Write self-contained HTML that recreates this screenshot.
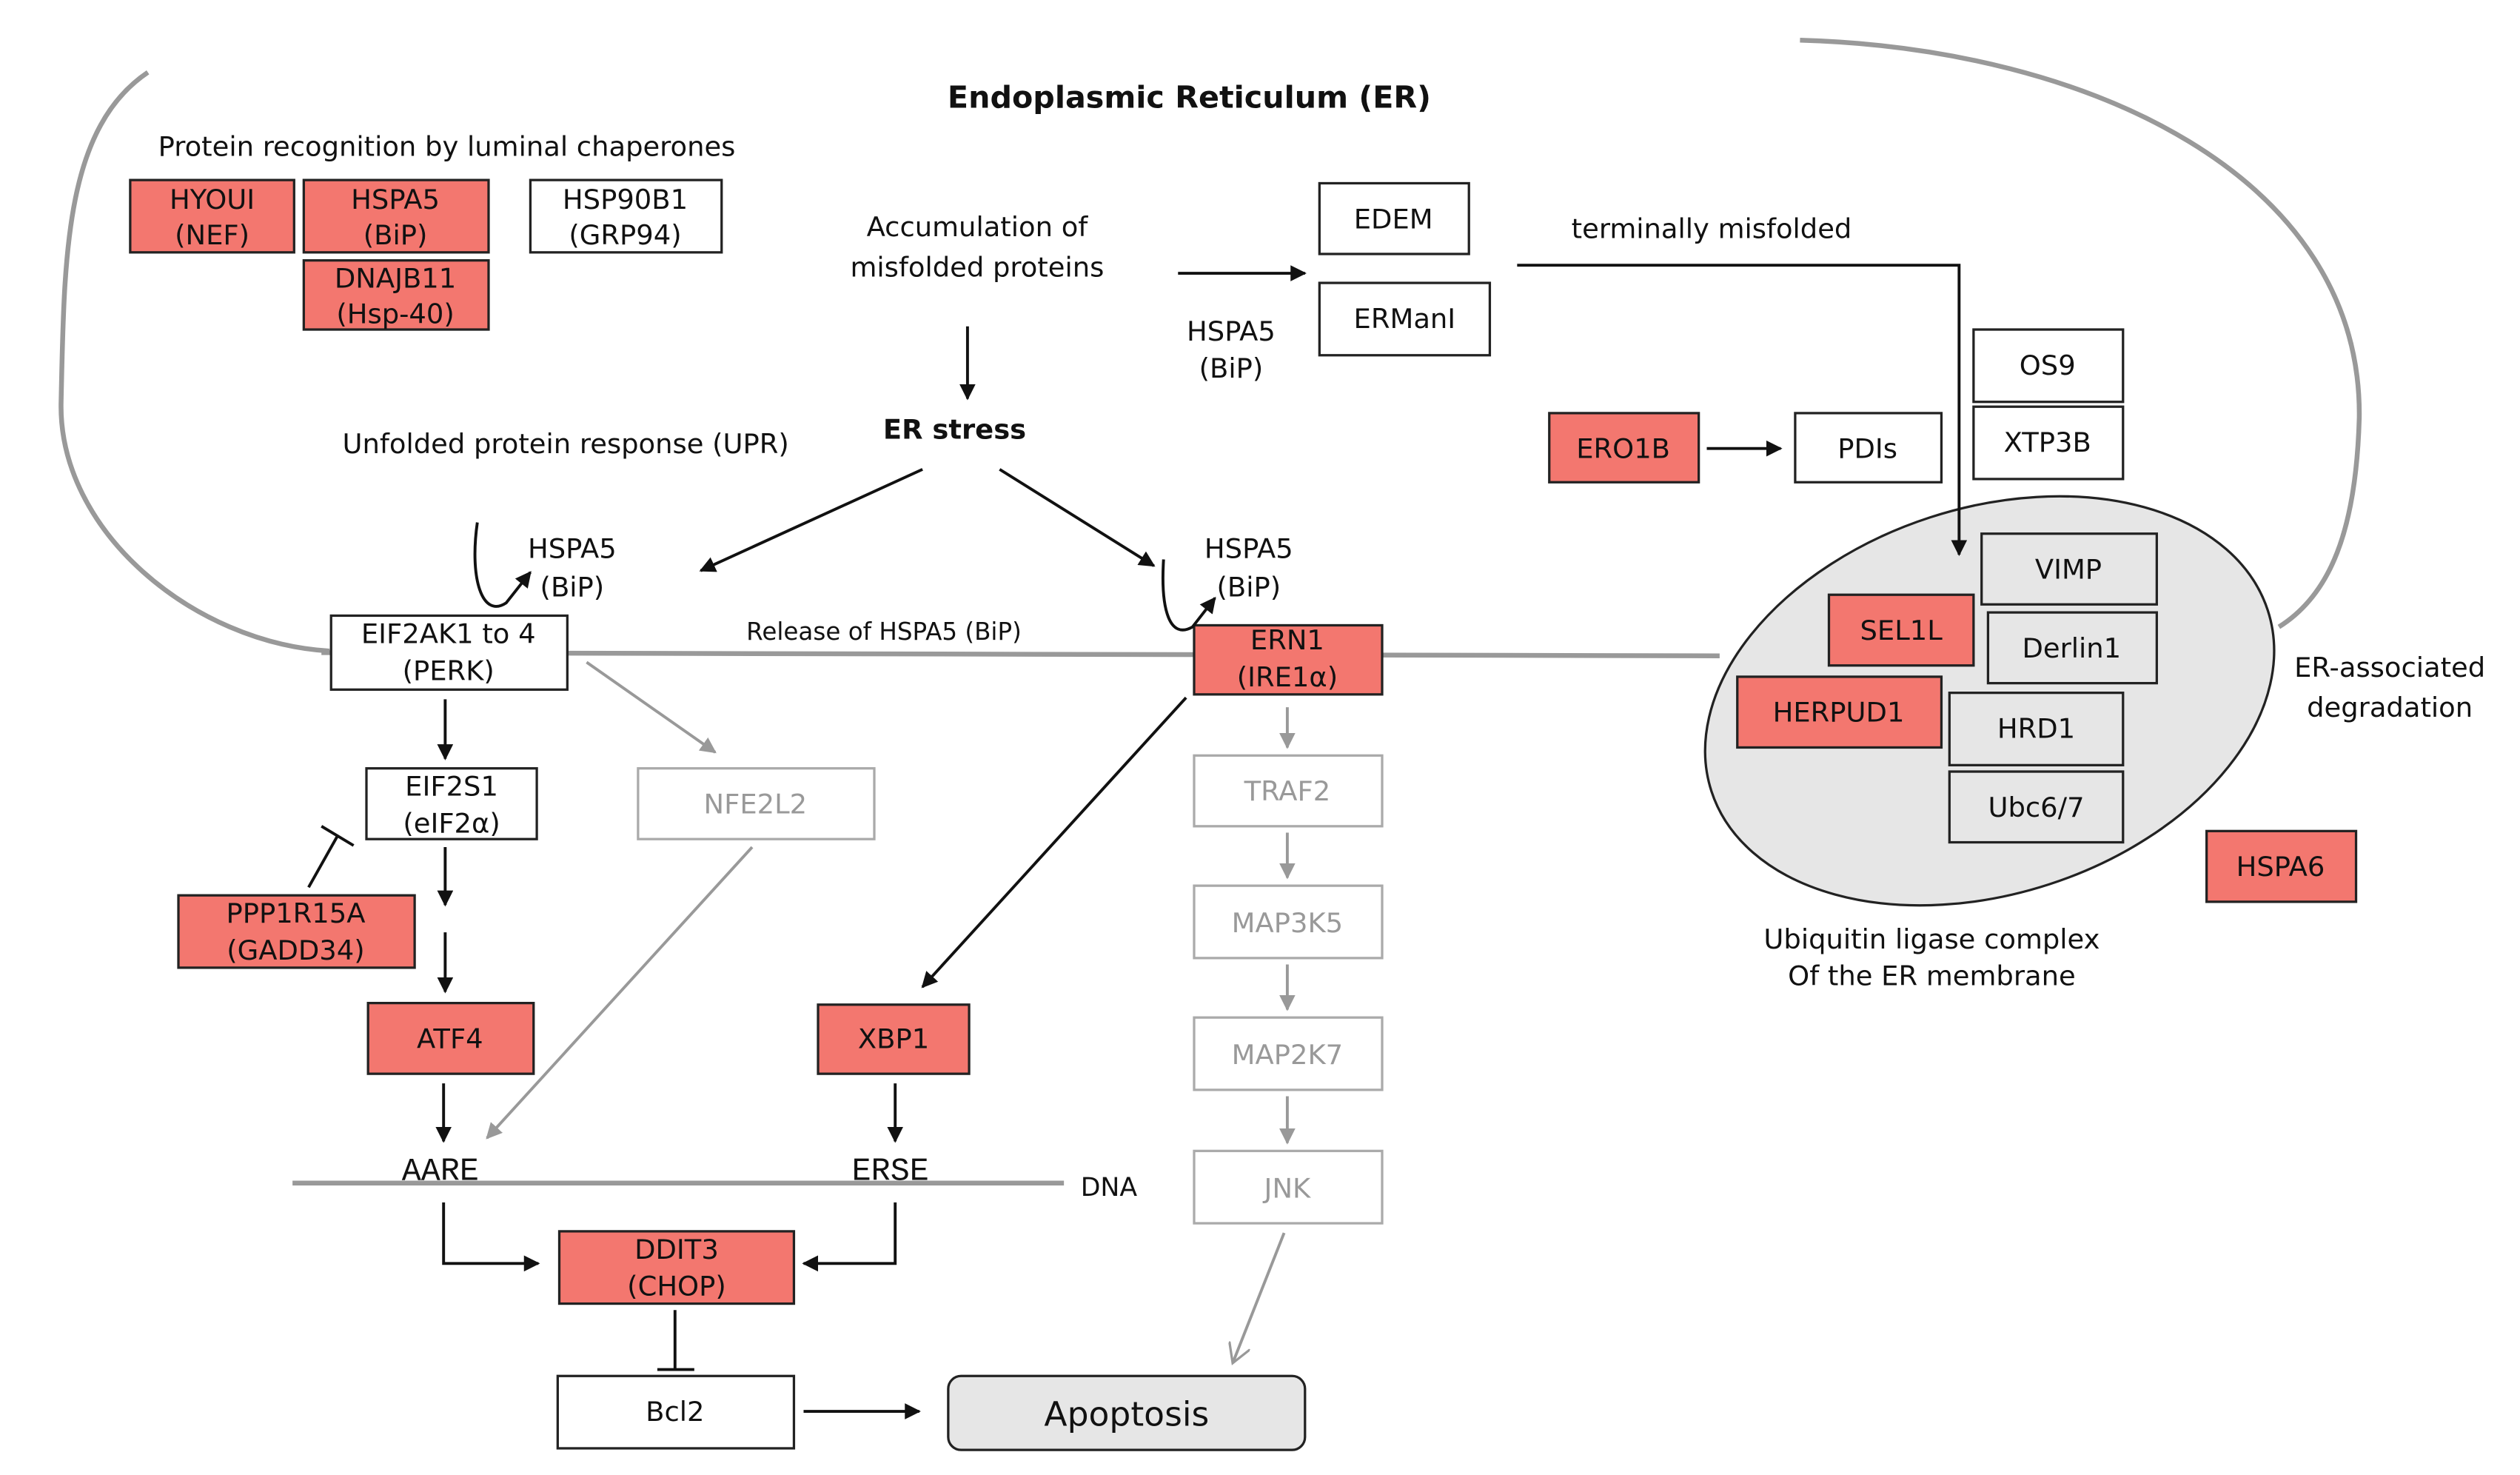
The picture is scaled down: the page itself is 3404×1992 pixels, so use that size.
<!DOCTYPE html>
<html><head><meta charset="utf-8"><style>
html,body{margin:0;padding:0;background:#fff;}
svg{display:block;}
text{font-family:"DejaVu Sans","Liberation Sans",sans-serif;font-size:17px;fill:#111;}
.g{fill:#999;}
.m{font-family:"Liberation Mono",monospace;font-size:20px;}
</style></head><body>
<svg width="3404" height="1992" viewBox="0 0 1568 917.6" xmlns="http://www.w3.org/2000/svg">
<defs>
<marker id="a" markerWidth="10" markerHeight="10" refX="9" refY="5" orient="auto" markerUnits="userSpaceOnUse"><path d="M0,0 L10,5 L0,10 z" fill="#111"/></marker>
<marker id="ag" markerWidth="10" markerHeight="10" refX="9" refY="5" orient="auto" markerUnits="userSpaceOnUse"><path d="M0,0 L10,5 L0,10 z" fill="#999"/></marker>
<marker id="ao" markerWidth="14" markerHeight="14" refX="12" refY="7" orient="auto" markerUnits="userSpaceOnUse"><path d="M0,0 L12,7 L0,14" fill="none" stroke="#999" stroke-width="1.5"/></marker>
</defs>
<!-- ER membrane outline -->
<path d="M92,45 C40,80 40,160 38,250 C36,330 120,400 205,405" fill="none" stroke="#999" stroke-width="3"/>
<line x1="200" y1="406" x2="1070" y2="408" stroke="#999" stroke-width="3"/>
<path d="M1120,25 C1300,30 1470,110 1468,260 C1466,330 1450,370 1418,390" fill="none" stroke="#999" stroke-width="3"/>
<ellipse cx="1238" cy="436" rx="182" ry="120" transform="rotate(-18 1238 436)" fill="#e6e6e6" stroke="#222" stroke-width="1.5"/>

<g text-anchor="middle">
<text x="740" y="67" style="font-weight:bold;font-size:19px">Endoplasmic Reticulum (ER)</text>
<text x="278" y="97">Protein recognition by luminal chaperones</text>
<text x="608" y="147">Accumulation of</text>
<text x="608" y="172">misfolded proteins</text>
<text x="1065" y="148">terminally misfolded</text>
<text x="766" y="212">HSPA5</text><text x="766" y="235">(BiP)</text>
<text x="594" y="273" style="font-weight:bold">ER stress</text>
<text x="352" y="282">Unfolded protein response (UPR)</text>
<text x="356" y="347">HSPA5</text><text x="356" y="371">(BiP)</text>
<text x="777" y="347">HSPA5</text><text x="777" y="371">(BiP)</text>
<text x="550" y="398" style="font-size:15px">Release of HSPA5 (BiP)</text>
<text x="1487" y="421">ER-associated</text><text x="1487" y="446">degradation</text>
<text x="1202" y="590">Ubiquitin ligase complex</text><text x="1202" y="613">Of the ER membrane</text>
<text x="690" y="744" style="font-size:16px">DNA</text>
<text x="274" y="734" class="m">AARE</text>
<text x="554" y="734" class="m">ERSE</text>
</g>

<!-- boxes -->
<g stroke="#222" stroke-width="1.5">
<rect x="81" y="112" width="102" height="45" fill="#f3776f"/>
<rect x="189" y="112" width="115" height="45" fill="#f3776f"/>
<rect x="189" y="162" width="115" height="43" fill="#f3776f"/>
<rect x="330" y="112" width="119" height="45" fill="#fff"/>
<rect x="821" y="114" width="93" height="44" fill="#fff"/>
<rect x="821" y="176" width="106" height="45" fill="#fff"/>
<rect x="1228" y="205" width="93" height="45" fill="#fff"/>
<rect x="1228" y="253" width="93" height="45" fill="#fff"/>
<rect x="964" y="257" width="93" height="43" fill="#f3776f"/>
<rect x="1117" y="257" width="91" height="43" fill="#fff"/>
<rect x="1233" y="332" width="109" height="44" fill="#e6e6e6"/>
<rect x="1237" y="381" width="105" height="44" fill="#e6e6e6"/>
<rect x="1213" y="431" width="108" height="45" fill="#e6e6e6"/>
<rect x="1213" y="480" width="108" height="44" fill="#e6e6e6"/>
<rect x="1138" y="370" width="90" height="44" fill="#f3776f"/>
<rect x="1081" y="421" width="127" height="44" fill="#f3776f"/>
<rect x="1373" y="517" width="93" height="44" fill="#f3776f"/>
<rect x="206" y="383" width="147" height="46" fill="#fff"/>
<rect x="743" y="389" width="117" height="43" fill="#f3776f"/>
<rect x="228" y="478" width="106" height="44" fill="#fff"/>
<rect x="111" y="557" width="147" height="45" fill="#f3776f"/>
<rect x="229" y="624" width="103" height="44" fill="#f3776f"/>
<rect x="509" y="625" width="94" height="43" fill="#f3776f"/>
<rect x="348" y="766" width="146" height="45" fill="#f3776f"/>
<rect x="347" y="856" width="147" height="45" fill="#fff"/>
<rect x="590" y="856" width="222" height="46" rx="8" fill="#e6e6e6"/>
</g>
<g stroke="#aaa" stroke-width="1.5" fill="#fff">
<rect x="397" y="478" width="147" height="44"/>
<rect x="743" y="470" width="117" height="44"/>
<rect x="743" y="551" width="117" height="45"/>
<rect x="743" y="633" width="117" height="45"/>
<rect x="743" y="716" width="117" height="45"/>
</g>

<g text-anchor="middle">
<text x="132" y="130">HYOUI</text><text x="132" y="152">(NEF)</text>
<text x="246" y="130">HSPA5</text><text x="246" y="152">(BiP)</text>
<text x="246" y="179">DNAJB11</text><text x="246" y="201">(Hsp-40)</text>
<text x="389" y="130">HSP90B1</text><text x="389" y="152">(GRP94)</text>
<text x="867" y="142">EDEM</text>
<text x="874" y="204">ERManI</text>
<text x="1274" y="233">OS9</text>
<text x="1274" y="281">XTP3B</text>
<text x="1010" y="285">ERO1B</text>
<text x="1162" y="285">PDIs</text>
<text x="1287" y="360">VIMP</text>
<text x="1289" y="409">Derlin1</text>
<text x="1267" y="459">HRD1</text>
<text x="1267" y="508">Ubc6/7</text>
<text x="1183" y="398">SEL1L</text>
<text x="1144" y="449">HERPUD1</text>
<text x="1419" y="545">HSPA6</text>
<text x="279" y="400">EIF2AK1 to 4</text><text x="279" y="423">(PERK)</text>
<text x="801" y="404">ERN1</text><text x="801" y="427">(IRE1α)</text>
<text x="281" y="495">EIF2S1</text><text x="281" y="518">(eIF2α)</text>
<text x="184" y="574">PPP1R15A</text><text x="184" y="597">(GADD34)</text>
<text x="280" y="652">ATF4</text>
<text x="556" y="652">XBP1</text>
<text x="421" y="783">DDIT3</text><text x="421" y="806">(CHOP)</text>
<text x="420" y="884">Bcl2</text>
<text x="701" y="887" style="font-size:21px">Apoptosis</text>
<text x="470" y="506" class="g">NFE2L2</text>
<text x="801" y="498" class="g">TRAF2</text>
<text x="801" y="580" class="g">MAP3K5</text>
<text x="801" y="662" class="g">MAP2K7</text>
<text x="801" y="745" class="g">JNK</text>
</g>

<!-- black arrows -->
<g stroke="#111" stroke-width="1.8" fill="none" marker-end="url(#a)">
<line x1="733" y1="170" x2="812" y2="170"/>
<polyline points="944,165 1219,165 1219,345"/>
<line x1="602" y1="203" x2="602" y2="248"/>
<line x1="1062" y1="279" x2="1108" y2="279"/>
<line x1="574" y1="292" x2="436" y2="355"/>
<line x1="622" y1="292" x2="718" y2="352"/>
<path d="M297,325 C292,360 300,385 315,375 L330,356"/>
<path d="M724,348 C722,380 728,398 742,390 L756,372"/>
<line x1="277" y1="435" x2="277" y2="472"/>
<line x1="277" y1="527" x2="277" y2="563"/>
<line x1="277" y1="580" x2="277" y2="617"/>
<line x1="738" y1="434" x2="574" y2="614"/>
<line x1="276" y1="674" x2="276" y2="710"/>
<line x1="557" y1="674" x2="557" y2="710"/>
<polyline points="276,748 276,786 335,786"/>
<polyline points="557,748 557,786 500,786"/>
<line x1="500" y1="878" x2="572" y2="878"/>
</g>
<g stroke="#111" stroke-width="1.8">
<line x1="192" y1="552" x2="210" y2="520"/>
<line x1="200" y1="514" x2="220" y2="526"/>
<line x1="420" y1="815" x2="420" y2="852"/>
<line x1="409" y1="852" x2="432" y2="852"/>
</g>
<!-- gray arrows -->
<g stroke="#999" stroke-width="1.8" fill="none" marker-end="url(#ag)">
<line x1="365" y1="412" x2="445" y2="468"/>
<line x1="468" y1="527" x2="303" y2="708"/>
<line x1="801" y1="440" x2="801" y2="465"/>
<line x1="801" y1="518" x2="801" y2="546"/>
<line x1="801" y1="600" x2="801" y2="628"/>
<line x1="801" y1="682" x2="801" y2="711"/>
</g>
<line x1="799" y1="767" x2="767" y2="848" stroke="#999" stroke-width="1.8" marker-end="url(#ao)"/>
<line x1="182" y1="736" x2="662" y2="736" stroke="#999" stroke-width="3"/>
</svg>
</body></html>
